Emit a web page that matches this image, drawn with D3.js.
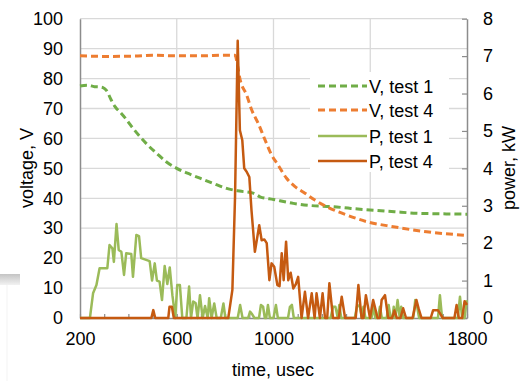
<!DOCTYPE html>
<html>
<head>
<meta charset="utf-8">
<script src="https://cdn.jsdelivr.net/npm/d3@7/dist/d3.min.js"></script>
<style>
  html, body { margin: 0; padding: 0; background: #fff; }
  svg { display: block; font-family: "Liberation Sans", Arial, sans-serif; }
</style>
</head>
<body>
<svg id="chart" width="520" height="381"></svg>
<script>
// Voltage traces (V) — time in usec
const v1Time = [200,230,260,283,295,310,328,345,370,393,420,448,480,517,555,600,650,696,750,806,860,916,944,1000,1082,1150,1247,1320,1399,1500,1592,1700,1800];
const v1Volt = [77.5,77.8,77.3,77.2,77,76,73,70.6,68.4,66.2,63.3,60.6,57.8,55,52.3,50,48.2,46.7,45,43.3,42.4,41.7,40.5,39.6,38.3,37.6,37.2,36.6,36.1,35.5,35,34.8,34.7];

const v4Time = [200,300,420,500,600,700,800,841,852,861,889,910,937,965,992,1020,1054,1089,1130,1171,1220,1300,1385,1495,1633,1800];
const v4Volt = [87.6,87.4,87.5,87.8,87.6,87.6,87.8,87.8,84,80,74.5,69.5,65,59.5,54.5,51,46.7,43.9,41.7,39.4,37.2,34.5,32.2,30.5,28.8,27.6];

// Power traces (kW)
const p1Time = [200,241,254,268,281,313,322,334,340,351,360,371,382,391,412,419,433,444,453,488,498,509,518,529,539,550,561,571,582,594,602,613,623,640,651,659,668,678,686,696,707,717,728,734,744,755,765,782,793,801,852,862,872,895,903,912,921,940,948,957,964,970,977,985,1000,1010,1018,1060,1068,1076,1084,1236,1246,1256,1266,1272,1280,1336,1345,1356,1366,1372,1380,1405,1413,1421,1432,1440,1448,1468,1476,1484,1492,1497,1504,1513,1522,1528,1536,1578,1586,1594,1602,1680,1688,1697,1762,1771,1780,1790,1799];
const p1Power = [0,0,0.66,0.88,1.33,1.33,1.95,1.86,1.5,2.51,1.82,1.77,1.15,1.73,1.71,1.1,2.22,2.19,1.6,1.52,1.0,1.46,1.0,0.97,0.48,1.39,0.91,1.35,0.61,0,0.88,0.88,0,0,0.84,0,0.44,0.4,0,0.61,0,0.32,0,0.53,0,0.39,0,0,0.39,0,0,0.35,0,0,0.17,0.1,0,0,0.35,0.3,0,0,0.35,0,0,0.35,0,0,0.3,0.35,0,0,0.3,0.3,0,0.35,0,0,0.3,0.35,0,0.3,0,0,0.3,0,0,0.3,0,0,0.35,0,0,0.3,0,0.48,0,0.3,0,0,0.48,0.3,0,0,0.61,0,0,0.57,0,0,0.48];

const p4Time = [200,495,503,511,565,570,580,588,813,830,841,852,861,871,879,889,900,909,923,941,951,962,972,983,992,1003,1016,1025,1034,1042,1052,1061,1071,1082,1092,1102,1116,1130,1143,1158,1170,1178,1192,1203,1213,1222,1231,1246,1270,1282,1296,1340,1351,1364,1372,1382,1399,1412,1419,1430,1440,1447,1461,1474,1490,1500,1510,1525,1536,1548,1575,1591,1600,1612,1650,1660,1680,1700,1748,1757,1766,1780,1790,1800];
const p4Power = [0,0,0.21,0,0,0.3,0.3,0,0,0.75,3.24,7.41,5.02,4.75,4.0,3.91,3.77,2.88,1.77,2.48,2.08,2.1,2.0,1.01,1.46,1.37,0.88,0.85,1.73,1.01,2.04,1.01,1.21,0.79,0.9,1.1,0,0.7,0,0.66,0,0.66,0,0.66,0,0,0.93,0,0,0.57,0,0,0.88,0,0,0.61,0,0.48,0.3,0,0,0.48,0.61,0,0,0.2,0,0,0.26,0,0,0.48,0.25,0,0,0.21,0.21,0,0,0.35,0,0,0.45,0.35];

const xTicks = [200,600,1000,1400,1800];
const yLeftTicks = [0,10,20,30,40,50,60,70,80,90,100];
const yRightTicks = [0,1,2,3,4,5,6,7,8];

const seriesNames = ["V, test 1","V, test 4","P, test 1","P, test 4"];
const seriesColors = ["#70ad47","#ed7d31","#9bbb59","#c55a11"];

const svg = d3.select("#chart");
const plotL = 80, plotR = 467, plotT = 18.7, plotB = 318;

const x = d3.scaleLinear().domain([200,1800]).range([plotL,plotR]);
const yV = d3.scaleLinear().domain([0,100]).range([plotB,plotT]);
const yP = d3.scaleLinear().domain([0,8]).range([plotB,plotT]);

// faint gray band at the left edge
const defs = svg.append("defs");
const grad = defs.append("linearGradient").attr("id","edgeband").attr("x1",0).attr("y1",0).attr("x2",0).attr("y2",1);
grad.append("stop").attr("offset","0%").attr("stop-color","#c4c4c4");
grad.append("stop").attr("offset","100%").attr("stop-color","#f2f2f2");
svg.append("rect").attr("x",0).attr("y",274).attr("width",20).attr("height",11).attr("fill","url(#edgeband)");
svg.append("line").attr("x1",7).attr("x2",7).attr("y1",285).attr("y2",381).attr("stroke","#f3f3f3").attr("stroke-width",1);

// gridlines
const grid = svg.append("g");
grid.selectAll("line.h").data(yLeftTicks.slice(1)).join("line")
  .attr("x1",plotL).attr("x2",plotR).attr("y1",d=>yV(d)).attr("y2",d=>yV(d))
  .attr("stroke","#d9d9d9").attr("stroke-width",1.3);
grid.selectAll("line.v").data(xTicks.slice(1,-1)).join("line")
  .attr("y1",plotT).attr("y2",plotB).attr("x1",d=>x(d)).attr("x2",d=>x(d))
  .attr("stroke","#d9d9d9").attr("stroke-width",1.3);

// axes
const axisColor = "#8c8c8c";
const xAxis = svg.append("g").attr("transform",`translate(0,${plotB})`)
  .call(d3.axisBottom(x).tickValues(d3.range(200,1801,100)).tickSize(0).tickFormat(""));
xAxis.select(".domain").attr("stroke",axisColor).attr("stroke-width",1.5);
xAxis.selectAll(".tick line").attr("y1",-4).attr("y2",0).attr("stroke",axisColor).attr("stroke-width",1.2);
svg.append("g").attr("transform",`translate(0,${plotB})`)
  .call(d3.axisBottom(x).tickValues(xTicks).tickSize(0).tickPadding(14).tickFormat(d3.format("d")))
  .call(g=>g.select(".domain").remove())
  .selectAll("text").attr("font-size",18).attr("fill","#000").attr("font-family","Liberation Sans, Arial, sans-serif");

const yAxisL = svg.append("g").attr("transform",`translate(${plotL},0)`)
  .call(d3.axisLeft(yV).tickValues(yLeftTicks).tickSize(0).tickPadding(17));
yAxisL.select(".domain").attr("stroke",axisColor).attr("stroke-width",1.5);
yAxisL.selectAll("text").attr("font-size",18).attr("fill","#000").attr("font-family","Liberation Sans, Arial, sans-serif");

const yAxisR = svg.append("g").attr("transform",`translate(${plotR},0)`)
  .call(d3.axisRight(yP).tickValues(yRightTicks).tickSize(0).tickPadding(16));
yAxisR.select(".domain").attr("stroke",axisColor).attr("stroke-width",1.5);
yAxisR.selectAll(".tick line").attr("x1",-5).attr("x2",0).attr("stroke",axisColor).attr("stroke-width",1.2);
yAxisR.selectAll("text").attr("font-size",18).attr("fill","#000").attr("font-family","Liberation Sans, Arial, sans-serif");

// axis titles
svg.append("text").attr("transform","translate(33,168) rotate(-90)").attr("text-anchor","middle")
  .attr("font-size",18).text("voltage, V");
svg.append("text").attr("transform","translate(515,168) rotate(-90)").attr("text-anchor","middle")
  .attr("font-size",18).text("power, kW");
svg.append("text").attr("x",273).attr("y",376).attr("text-anchor","middle")
  .attr("font-size",18).text("time, usec");

// series
const vLine = d3.line().x(d=>x(d[0])).y(d=>yV(d[1])).curve(d3.curveMonotoneX);
const pLine = d3.line().x(d=>x(d[0])).y(d=>yP(d[1]));
const plot = svg.append("g");
plot.append("path").datum(d3.zip(v1Time,v1Volt)).attr("d",vLine)
  .attr("fill","none").attr("stroke",seriesColors[0]).attr("stroke-width",3).attr("stroke-dasharray","7,4");
plot.append("path").datum(d3.zip(v4Time,v4Volt)).attr("d",vLine)
  .attr("fill","none").attr("stroke",seriesColors[1]).attr("stroke-width",3).attr("stroke-dasharray","7,4");
plot.append("path").datum(d3.zip(p1Time,p1Power)).attr("d",pLine)
  .attr("fill","none").attr("stroke",seriesColors[2]).attr("stroke-width",2.5).attr("stroke-linejoin","round");
plot.append("path").datum(d3.zip(p4Time,p4Power)).attr("d",pLine)
  .attr("fill","none").attr("stroke",seriesColors[3]).attr("stroke-width",2.5).attr("stroke-linejoin","round");

// legend
const legend = svg.append("g");
legend.append("rect").attr("x",310).attr("y",72).attr("width",139).attr("height",100).attr("fill","#fff");
const rowY = [86,110,136,161];
seriesNames.forEach((name,i)=>{
  legend.append("line").attr("x1",318).attr("x2",367).attr("y1",rowY[i]).attr("y2",rowY[i])
    .attr("stroke",seriesColors[i]).attr("stroke-width",i<2?3:2.5)
    .attr("stroke-dasharray",i<2?"7,4":null);
  legend.append("text").attr("x",369).attr("y",rowY[i]+6.5).attr("font-size",18).text(name);
});
</script>
</body>
</html>
